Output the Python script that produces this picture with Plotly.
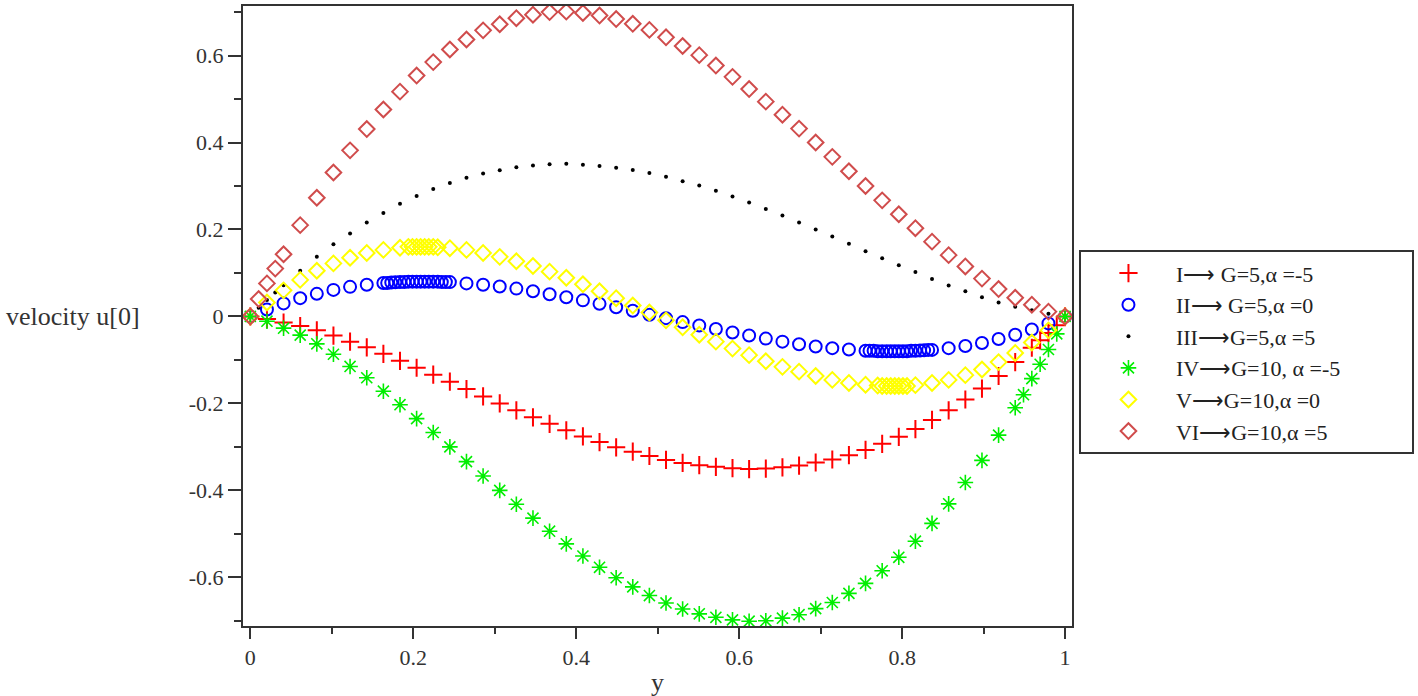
import plotly.graph_objects as go

# shared sampling grid (y = k/49)
y_grid = [0, 0.0204, 0.0408, 0.0612, 0.0816, 0.1020, 0.1224, 0.1429, 0.1633, 0.1837,
          0.2041, 0.2245, 0.2449, 0.2653, 0.2857, 0.3061, 0.3265, 0.3469, 0.3673, 0.3878,
          0.4082, 0.4286, 0.4490, 0.4694, 0.4898, 0.5102, 0.5306, 0.5510, 0.5714, 0.5918,
          0.6122, 0.6327, 0.6531, 0.6735, 0.6939, 0.7143, 0.7347, 0.7551, 0.7755, 0.7959,
          0.8163, 0.8367, 0.8571, 0.8776, 0.8980, 0.9184, 0.9388, 0.9592, 0.9796, 1.0]

u_I = [0, -0.006, -0.014, -0.022, -0.032, -0.044, -0.058, -0.071, -0.086, -0.102,
       -0.118, -0.134, -0.150, -0.167, -0.184, -0.200, -0.216, -0.232, -0.247, -0.262,
       -0.276, -0.289, -0.301, -0.311, -0.321, -0.330, -0.337, -0.342, -0.346, -0.349,
       -0.351, -0.350, -0.347, -0.343, -0.336, -0.329, -0.319, -0.307, -0.293, -0.277,
       -0.259, -0.238, -0.216, -0.191, -0.166, -0.137, -0.105, -0.072, -0.038, 0]
extra_y_I = [0.9694, 0.9898]
extra_u_I = [-0.055, -0.020]

u_II = [0, 0.016, 0.030, 0.042, 0.052, 0.061, 0.068, 0.073, 0.077, 0.079,
        0.080, 0.080, 0.079, 0.076, 0.073, 0.069, 0.064, 0.058, 0.051, 0.044,
        0.037, 0.029, 0.021, 0.013, 0.004, -0.004, -0.013, -0.021, -0.029, -0.037,
        -0.044, -0.051, -0.058, -0.064, -0.069, -0.073, -0.076, -0.079, -0.080, -0.080,
        -0.079, -0.077, -0.073, -0.068, -0.061, -0.052, -0.042, -0.030, -0.016, 0]
extra_y_II = [0.168, 0.173, 0.178, 0.189, 0.194, 0.199, 0.209, 0.214, 0.219, 0.230, 0.235, 0.240,
              0.760, 0.765, 0.770, 0.781, 0.786, 0.791, 0.801, 0.806, 0.811, 0.822, 0.827, 0.832]
extra_u_II = [0.077, 0.078, 0.0785, 0.079, 0.080, 0.080, 0.080, 0.080, 0.080, 0.080, 0.079, 0.079,
              -0.079, -0.079, -0.080, -0.080, -0.080, -0.080, -0.080, -0.080, -0.079, -0.0785, -0.078, -0.077]

u_III = [0, 0.038, 0.072, 0.105, 0.137, 0.166, 0.191, 0.216, 0.238, 0.259,
         0.277, 0.293, 0.307, 0.319, 0.329, 0.336, 0.343, 0.347, 0.350, 0.351,
         0.349, 0.346, 0.342, 0.337, 0.330, 0.321, 0.311, 0.301, 0.289, 0.276,
         0.262, 0.247, 0.232, 0.216, 0.200, 0.184, 0.167, 0.150, 0.134, 0.118,
         0.102, 0.086, 0.071, 0.058, 0.044, 0.032, 0.022, 0.014, 0.006, 0]
extra_y_III = [0.0102, 0.0306]
extra_u_III = [0.020, 0.055]

u_IV = [0, -0.011, -0.027, -0.043, -0.063, -0.087, -0.115, -0.141, -0.172, -0.203,
        -0.235, -0.267, -0.300, -0.334, -0.367, -0.400, -0.432, -0.464, -0.494, -0.523,
        -0.551, -0.577, -0.601, -0.622, -0.642, -0.659, -0.673, -0.684, -0.692, -0.698,
        -0.701, -0.700, -0.694, -0.686, -0.672, -0.658, -0.637, -0.614, -0.585, -0.554,
        -0.517, -0.476, -0.431, -0.382, -0.331, -0.273, -0.210, -0.143, -0.076, 0]
extra_y_IV = [0.9490, 0.9694, 0.9898]
extra_u_IV = [-0.180, -0.110, -0.040]

u_V = [0, 0.032, 0.060, 0.084, 0.105, 0.122, 0.135, 0.146, 0.153, 0.158,
       0.160, 0.160, 0.157, 0.153, 0.146, 0.137, 0.127, 0.116, 0.103, 0.089,
       0.074, 0.058, 0.042, 0.025, 0.009, -0.009, -0.025, -0.042, -0.058, -0.074,
       -0.089, -0.103, -0.116, -0.127, -0.137, -0.146, -0.153, -0.157, -0.160, -0.160,
       -0.158, -0.153, -0.146, -0.135, -0.122, -0.105, -0.084, -0.060, -0.032, 0]
extra_y_V = [0.194, 0.199, 0.209, 0.214, 0.219, 0.230, 0.770, 0.781, 0.786, 0.791, 0.801, 0.806]
extra_u_V = [0.160, 0.160, 0.160, 0.160, 0.160, 0.159, -0.159, -0.160, -0.160, -0.160, -0.160, -0.160]

u_VI = [0, 0.076, 0.143, 0.210, 0.273, 0.331, 0.382, 0.431, 0.476, 0.517,
        0.554, 0.585, 0.614, 0.637, 0.658, 0.672, 0.686, 0.694, 0.700, 0.701,
        0.698, 0.692, 0.684, 0.673, 0.659, 0.642, 0.622, 0.601, 0.577, 0.551,
        0.523, 0.494, 0.464, 0.432, 0.400, 0.367, 0.334, 0.300, 0.267, 0.235,
        0.203, 0.172, 0.141, 0.115, 0.087, 0.063, 0.043, 0.027, 0.011, 0]
extra_y_VI = [0.0102, 0.0306]
extra_u_VI = [0.040, 0.110]

names = ["I\u27f6 G=5,\u03b1 =-5", "II\u27f6 G=5,\u03b1 =0", "III\u27f6G=5,\u03b1 =5",
         "IV\u27f6G=10, \u03b1 =-5", "V\u27f6G=10,\u03b1 =0", "VI\u27f6G=10,\u03b1 =5"]

x_tickvals = [0, 0.2, 0.4, 0.6, 0.8, 1]
x_ticktext = ["0", "0.2", "0.4", "0.6", "0.8", "1"]
y_tickvals = [-0.6, -0.4, -0.2, 0, 0.2, 0.4, 0.6]
y_ticktext = ["-0.6", "-0.4", "-0.2", "0", "0.2", "0.4", "0.6"]

FONT = "Liberation Serif, Times New Roman, serif"
PAD = "\u00a0" * 12  # widens the legend box to the reference's width


def merged(ys, us, ey, eu):
    pts = sorted(zip(list(ys) + list(ey), list(us) + list(eu)))
    return [p[0] for p in pts], [p[1] for p in pts]


series = [
    (u_I, extra_y_I, extra_u_I, dict(symbol="cross-thin-open", size=13, color="#ff0000",
                                     line=dict(color="#ff0000", width=2))),
    (u_II, extra_y_II, extra_u_II, dict(symbol="circle-open", size=12, color="#0000ff",
                                        line=dict(color="#0000ff", width=2))),
    (u_III, extra_y_III, extra_u_III, dict(symbol="circle", size=4, color="#000000",
                                           line=dict(width=0))),
    (u_IV, extra_y_IV, extra_u_IV, dict(symbol="asterisk-open", size=13, color="#00ee00",
                                        line=dict(color="#00ee00", width=1.6))),
    (u_V, extra_y_V, extra_u_V, dict(symbol="diamond-open", size=12, color="#ffff00",
                                     line=dict(color="#f5f500", width=2))),
    (u_VI, extra_y_VI, extra_u_VI, dict(symbol="diamond-open", size=12, color="#d04c4c",
                                        line=dict(color="#d04c4c", width=2))),
]

fig = go.Figure()
for i, (name, (us, ey, eu, mk)) in enumerate(zip(names, series)):
    xs, vs = merged(y_grid, us, ey, eu)
    label = name + PAD if i == 3 else name
    fig.add_trace(go.Scatter(x=xs, y=vs, mode="markers", name=label, marker=mk))

axis_common = dict(showgrid=False, zeroline=False, showline=True, mirror=True,
                   linecolor="#333333", linewidth=2, ticks="outside", tickwidth=2,
                   tickcolor="#333333", tickfont=dict(family=FONT, size=22, color="#333333"))

fig.update_xaxes(range=[-0.009, 1.0085], tickvals=x_tickvals, ticktext=x_ticktext,
                 ticklen=11, minor=dict(dtick=0.1, ticklen=6, tickwidth=2, ticks="outside",
                                        tickcolor="#333333"), **axis_common)
fig.update_yaxes(range=[-0.712, 0.714], tickvals=y_tickvals, ticktext=y_ticktext,
                 ticklen=13, minor=dict(dtick=0.1, ticklen=7, tickwidth=2, ticks="outside",
                                        tickcolor="#333333"), **axis_common)

fig.add_annotation(text="velocity u[0]", xref="paper", yref="y", x=-0.2885, y=0,
                   xanchor="left", yanchor="middle", showarrow=False,
                   font=dict(family=FONT, size=26, color="#333333"))
fig.add_annotation(text="y", xref="paper", yref="paper", x=0.5, y=-0.0916,
                   xanchor="center", yanchor="middle", showarrow=False,
                   font=dict(family=FONT, size=26, color="#333333"))

fig.update_layout(
    width=1418, height=696,
    margin=dict(l=243, r=343, t=4, b=70),
    paper_bgcolor="white", plot_bgcolor="white",
    legend=dict(x=1.0084, y=0.606, xanchor="left", yanchor="top",
                bordercolor="#333333", borderwidth=2, bgcolor="white",
                font=dict(family=FONT, size=22, color="#222222"),
                itemwidth=85, tracegroupgap=0),
    showlegend=True,
)

fig.write_html("out.html", config={"displayModeBar": False},
               post_script="document.body.style.margin='0';document.body.style.overflow='hidden';")
